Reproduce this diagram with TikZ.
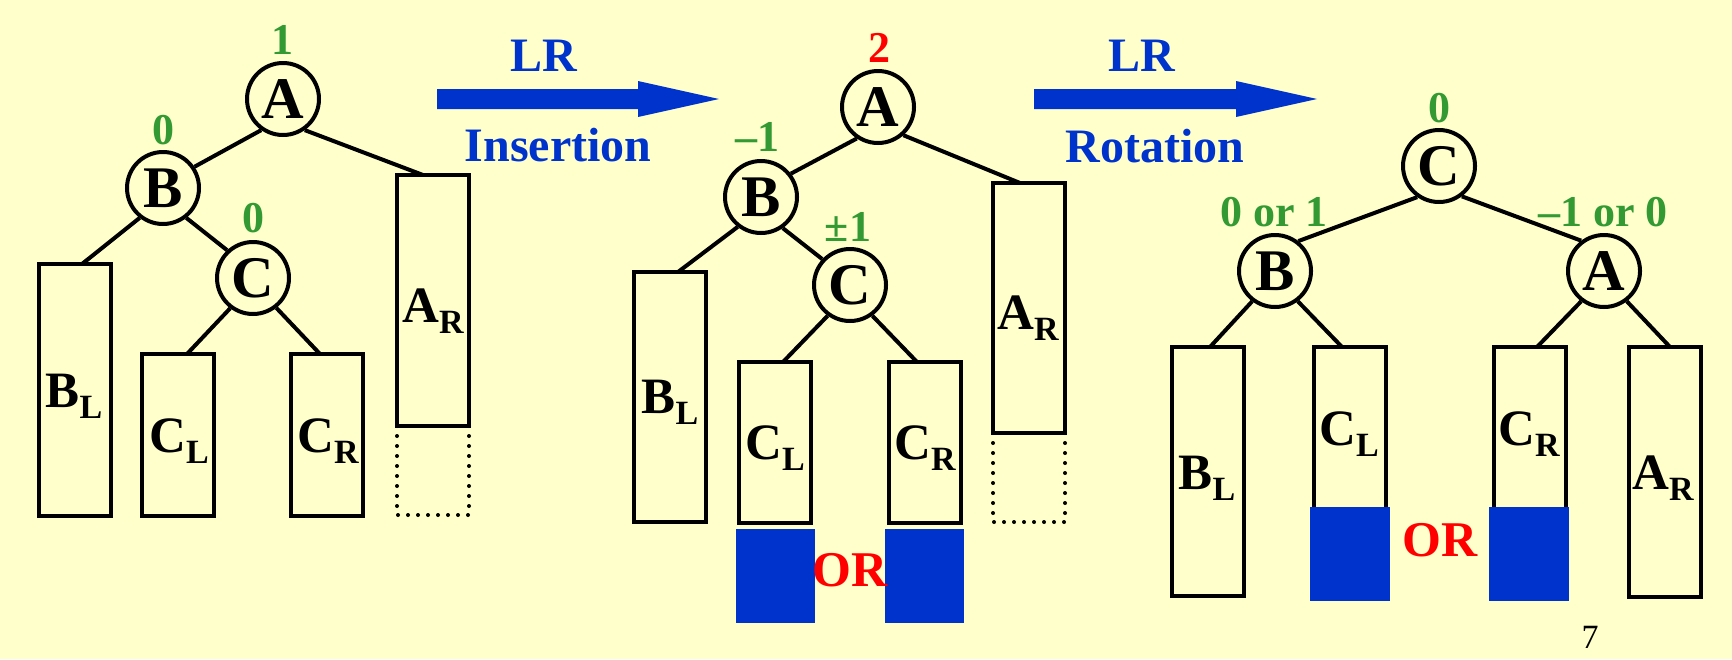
\documentclass[tikz,border=0pt]{standalone}
\usepackage{fontspec}
\setmainfont{Liberation Serif}
\usetikzlibrary{calc}
\definecolor{bgyellow}{RGB}{255,255,204}
\definecolor{myblue}{RGB}{0,51,204}
\definecolor{mygreen}{RGB}{51,153,51}
\definecolor{myred}{RGB}{255,0,0}
\newcommand\lowsub[1]{\raisebox{-5.4pt}{\fontsize{17}{17}\selectfont #1}}
\begin{document}
\begin{tikzpicture}[x=0.5pt,y=-0.5pt,
  tnode/.style={circle,draw,line width=2pt,minimum size=36pt,inner sep=0pt,
    font=\fontsize{29.5}{29.5}\selectfont\bfseries},
  link/.style={line width=2pt},
  boxn/.style={rectangle,draw,line width=2pt,inner sep=0pt,outer sep=0pt,
    anchor=north west,minimum width=36pt},
  dotbox/.style={line width=2pt,line cap=round,dash pattern=on 0pt off 5pt},
  bal/.style={text=mygreen,inner sep=0pt,font=\fontsize{22}{22}\selectfont\bfseries},
  balred/.style={text=myred,inner sep=0pt,font=\fontsize{22}{22}\selectfont\bfseries},
  blab/.style={inner sep=0pt,font=\fontsize{25.5}{25.5}\selectfont\bfseries},
  arrlab/.style={text=myblue,inner sep=0pt,font=\fontsize{24}{24}\selectfont\bfseries},
  orlab/.style={text=myred,inner sep=0pt,font=\fontsize{25}{25}\selectfont\bfseries},
  bluefill/.style={fill=myblue},
  bigarrow/.style={fill=myblue}
]
\useasboundingbox (0,0) rectangle (1732,659);
\fill[bgyellow] (0,0) rectangle (1732,659);

% ---------------- Tree 1 ----------------
\node[tnode] (A1) at (283,99) {A};
\node[tnode] (B1) at (163,188) {B};
\node[tnode] (C1) at (253,278) {C};
\node[bal] (bA1) at (282,40) {1};
\node[bal] (bB1) at (163,130) {0};
\node[bal] (bC1) at (253,218) {0};

\node[boxn,minimum height=126pt] (BL1) at (39,264) {};
\node[boxn,minimum height=81pt] (CL1) at (142,354) {};
\node[boxn,minimum height=81pt] (CR1) at (291,354) {};
\node[boxn,minimum height=125.5pt] (AR1) at (397,175) {};
\draw[dotbox] (AR1.south west) -- ++(0,89) -- ++(72,0) -- (AR1.south east);

\node[blab] (tBL1) at (74,396) {B\lowsub{L}};
\node[blab] (tCL1) at (179,441) {C\lowsub{L}};
\node[blab] (tCR1) at (328,441) {C\lowsub{R}};
\node[blab] (tAR1) at (433,311) {A\lowsub{R}};

\coordinate (eAR1) at (423,175);
\coordinate (eBL1) at (82,264);
\coordinate (eCL1) at (187,354);
\coordinate (eCR1) at (320,354);
\draw[link] (A1.-125) -- (B1.34);
\draw[link] (A1.-55) -- (eAR1);
\draw[link] (B1.-128) -- (eBL1);
\draw[link] (B1.-52) -- (C1.133);
\draw[link] (C1.-127) -- (eCL1);
\draw[link] (C1.-52) -- (eCR1);

% ---------------- Arrow 1 ----------------
\fill[bigarrow] (437,89) -- (638,89) -- (638,81) -- (719,99) -- (638,117) -- (638,109) -- (437,109) -- cycle;
\node[arrlab] (LR1) at (544,56) {LR};
\node[arrlab] (Ins) at (558,145) {Insertion};

% ---------------- Tree 2 ----------------
\node[tnode] (A2) at (878,107) {A};
\node[tnode] (B2) at (761,197) {B};
\node[tnode] (C2) at (850,285) {C};
\node[balred] (bA2) at (879,48) {2};
\node[bal] (bB2) at (757,137) {–1};
\node[bal] (bC2) at (848,227) {±1};

\node[boxn,minimum height=125pt] (BL2) at (634,272) {};
\node[boxn,minimum height=80.5pt] (CL2) at (739,362) {};
\node[boxn,minimum height=80.5pt] (CR2) at (889,362) {};
\node[boxn,minimum height=125pt] (AR2) at (993,183) {};
\draw[dotbox] (AR2.south west) -- ++(0,89) -- ++(72,0) -- (AR2.south east);
\fill[bluefill] (736,529) rectangle (815,623);
\fill[bluefill] (885,529) rectangle (964,623);
\node[orlab] (OR2) at (850,570) {OR};

\node[blab] (tBL2) at (670,402) {B\lowsub{L}};
\node[blab] (tCL2) at (775,448) {C\lowsub{L}};
\node[blab] (tCR2) at (925,448) {C\lowsub{R}};
\node[blab] (tAR2) at (1028,318) {A\lowsub{R}};

\coordinate (eAR2) at (1020,183);
\coordinate (eBL2) at (678,272);
\coordinate (eCL2) at (783,362);
\coordinate (eCR2) at (917,362);
\draw[link] (A2.-124) -- (B2.38);
\draw[link] (A2.-48) -- (eAR2);
\draw[link] (B2.-128) -- (eBL2);
\draw[link] (B2.-55) -- (C2.137);
\draw[link] (C2.-126) -- (eCL2);
\draw[link] (C2.-54) -- (eCR2);

% ---------------- Arrow 2 ----------------
\fill[bigarrow] (1034,89) -- (1236,89) -- (1236,81) -- (1317,99) -- (1236,117) -- (1236,109) -- (1034,109) -- cycle;
\node[arrlab] (LR2) at (1142,56) {LR};
\node[arrlab] (Rot) at (1155,146) {Rotation};

% ---------------- Tree 3 ----------------
\node[tnode] (C3) at (1439,166) {C};
\node[tnode] (B3) at (1275,271) {B};
\node[tnode] (A3) at (1604,271) {A};
\node[bal] (bC3) at (1439,108) {0};
\node[bal] (bB3) at (1274,212) {0 or 1};
\node[bal] (bA3) at (1603,212) {–1 or 0};

\node[boxn,minimum height=124.5pt] (BL3) at (1172,347) {};
\node[boxn,minimum height=126pt] (CL3) at (1314,347) {};
\node[boxn,minimum height=126pt] (CR3) at (1494,347) {};
\node[boxn,minimum height=125pt] (AR3) at (1629,347) {};
\fill[bluefill] (1310,507) rectangle (1390,601);
\fill[bluefill] (1489,507) rectangle (1569,601);
\node[orlab] (OR3) at (1440,540) {OR};

\node[blab] (tBL3) at (1207,478) {B\lowsub{L}};
\node[blab] (tCL3) at (1349,434) {C\lowsub{L}};
\node[blab] (tCR3) at (1529,434) {C\lowsub{R}};
\node[blab] (tAR3) at (1663,478) {A\lowsub{R}};

\coordinate (eBL3) at (1210,347);
\coordinate (eCL3) at (1342,347);
\coordinate (eCR3) at (1537,347);
\coordinate (eAR3) at (1670,347);
\draw[link] (C3.-125) -- (B3.52);
\draw[link] (C3.-53) -- (A3.127);
\draw[link] (B3.-127) -- (eBL3);
\draw[link] (B3.-53) -- (eCL3);
\draw[link] (A3.-127) -- (eCR3);
\draw[link] (A3.-53) -- (eAR3);

\node[inner sep=0pt,font=\fontsize{17}{17}\selectfont] (pg) at (1590,637) {7};
\end{tikzpicture}
\end{document}
